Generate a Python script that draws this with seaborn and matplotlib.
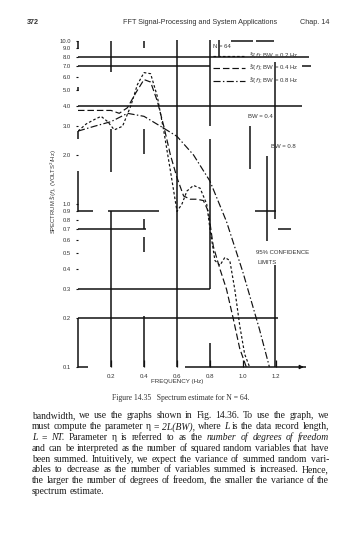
import numpy as np
import pandas as pd
import matplotlib
matplotlib.use("Agg")
import matplotlib.pyplot as plt
import seaborn as sns

# ---------------- data ----------------
freq_bw02 = [0.0, 0.05, 0.1, 0.14, 0.18, 0.22, 0.27, 0.32, 0.36, 0.4, 0.44, 0.48, 0.52,
             0.56, 0.6, 0.63, 0.66, 0.7, 0.74, 0.78, 0.8, 0.83, 0.86, 0.89, 0.92, 0.95,
             0.98, 1.01, 1.04]
spec_bw02 = [2.8, 3.1, 3.3, 3.45, 3.2, 2.85, 3.0, 4.0, 5.4, 6.4, 6.3, 4.6, 2.8,
             1.6, 0.9, 1.0, 1.2, 1.3, 1.25, 1.0, 0.7, 0.45, 0.42, 0.47, 0.45, 0.3,
             0.18, 0.12, 0.1]

freq_bw04 = [0.0, 0.1, 0.2, 0.25, 0.3, 0.35, 0.4, 0.44, 0.48, 0.52, 0.56, 0.6, 0.64,
             0.68, 0.72, 0.76, 0.79, 0.82, 0.86, 0.9, 0.94, 0.98, 1.02]
spec_bw04 = [3.75, 3.75, 3.75, 3.6, 3.9, 4.8, 5.8, 5.6, 4.3, 3.0, 2.0, 1.45, 1.12,
             1.07, 1.07, 1.05, 0.9, 0.55, 0.4, 0.3, 0.2, 0.13, 0.1]

freq_bw08 = [0.0, 0.1, 0.2, 0.3, 0.4, 0.5, 0.6, 0.7, 0.8, 0.9, 1.0, 1.1, 1.16]
spec_bw08 = [2.8, 3.0, 3.2, 3.6, 3.45, 3.0, 2.6, 2.0, 1.38, 0.78, 0.38, 0.17, 0.1]

series_labels = [r"$\hat{S}(f)$; BW = 0.2 Hz",
                 r"$\hat{S}(f)$; BW = 0.4 Hz",
                 r"$\hat{S}(f)$; BW = 0.8 Hz"]

x_ticks = [0.2, 0.4, 0.6, 0.8, 1.0, 1.2]
x_tick_labels = ["0.2", "0.4", "0.6", "0.8", "1.0", "1.2"]
y_ticks = [10, 9, 8, 7, 6, 5, 4, 3, 2, 1.0, 0.9, 0.8, 0.7, 0.6, 0.5, 0.4, 0.3, 0.2, 0.1]
y_tick_labels = ["10.0", "9.0", "8.0", "7.0", "6.0", "5.0", "4.0", "3.0", "2.0", "1.0",
                 "0.9", "0.8", "0.7", "0.6", "0.5", "0.4", "0.3", "0.2", "0.1"]

# chart-paper grid fragments (broken in the scan): (x, y_low, y_high)
v_segments = [(0.2, 6.45, 10), (0.2, 1.57, 2.88), (0.2, 0.1, 0.906),
              (0.4, 9.0, 10), (0.4, 2.03, 2.88), (0.4, 0.70, 0.81), (0.4, 0.51, 0.63),
              (0.4, 0.1, 0.206),
              (0.6, 0.1, 10.2),
              (0.8, 3.0, 10.2), (0.8, 0.3, 2.5), (0.8, 0.1, 0.14),
              (0.855, 8.1, 10.1),
              (1.04, 1.64, 3.0),
              (1.145, 0.59, 1.97),
              (1.194, 0.81, 7.4), (1.194, 0.1, 0.42)]
# (y, x_from, x_to)
h_segments = [(10, 0.93, 1.06), (10, 1.08, 1.19),
              (8.0, 0.0, 1.40),
              (7.0, 0.0, 0.80), (7.0, 1.36, 1.41),
              (4.0, 0.0, 1.36),
              (0.9, 0.0, 0.09), (0.9, 0.18, 0.49), (0.9, 1.07, 1.20),
              (0.7, 0.0, 0.41), (0.7, 1.21, 1.29),
              (0.3, 0.0, 0.80),
              (0.2, 0.0, 1.21),
              (0.1, 0.0, 0.06), (0.1, 0.65, 1.38)]
left_axis_segments = [(8.9, 10.0), (4.9, 5.2), (2.5, 2.8), (0.9, 1.6), (0.1, 0.2)]

body_lines = [
    [("bandwidth, we use the graphs shown in Fig. 14.36. To use the graph, we", "normal")],
    [("must compute the parameter η = ", "normal"), ("2L(BW),", "italic"),
     (" where ", "normal"), ("L", "italic"), (" is the data record length,", "normal")],
    [("L", "italic"), (" = ", "normal"), ("NT.", "italic"),
     (" Parameter η is referred to as the ", "normal"),
     ("number of degrees of freedom", "italic")],
    [("and can be interpreted as the number of squared random variables that have", "normal")],
    [("been summed. Intuitively, we expect the variance of summed random vari-", "normal")],
    [("ables to decrease as the number of variables summed is increased. Hence,", "normal")],
    [("the larger the number of degrees of freedom, the smaller the variance of the", "normal")],
    [("spectrum estimate.", "normal")],
]

# ---------------- figure ----------------
sns.set_theme(style="white")
plt.rcParams['font.family'] = ['Liberation Sans', 'DejaVu Sans']
plt.rcParams['mathtext.fontset'] = 'dejavusans'

W, H = 360, 538
fig = plt.figure(figsize=(W / 100, H / 100), dpi=100)
fig.patch.set_facecolor("white")


def P(x, y):
    return (x / W, 1 - y / H)


ax = fig.add_axes([78 / W, (H - 367) / H, 231 / W, 326 / H])
ax.set_facecolor("white")
ax.set_yscale("log")
ax.set_xlim(0, 1.4)
ax.set_ylim(0.1, 10)
for s in ax.spines.values():
    s.set_visible(False)

ink = "#111111"
txt = "#333333"

styles = [(0, (2.2, 1.8)), (0, (5.5, 2.5)), (0, (6, 2, 1.2, 2))]
series = [(freq_bw02, spec_bw02), (freq_bw04, spec_bw04), (freq_bw08, spec_bw08)]
handles = []
for (fx, sy), lab, ls in zip(series, series_labels, styles):
    df = pd.DataFrame({"f": fx, "S": sy})
    sns.lineplot(data=df, x="f", y="S", ax=ax, color=ink, lw=0.85,
                 sort=False, estimator=None, label=lab)
    ln = ax.lines[-1]
    ln.set_linestyle(ls)
    handles.append(ln)

for x, y0, y1 in v_segments:
    ax.vlines(x, y0, y1, color=ink, lw=1.1, clip_on=False)
for y, x0, x1 in h_segments:
    ax.hlines(y, x0, x1, color=ink, lw=1.1, clip_on=False)
for y0, y1 in left_axis_segments:
    ax.vlines(0.0, y0, y1, color=ink, lw=1.1, clip_on=False)

ax.annotate("", xy=(1.385, 0.1), xytext=(1.33, 0.1),
            arrowprops=dict(arrowstyle="-|>", color=ink, lw=0.8, mutation_scale=6),
            annotation_clip=False)

ax.set_xticks(x_ticks)
ax.set_xticklabels(x_tick_labels)
ax.set_yticks(y_ticks)
ax.set_yticklabels(y_tick_labels)
ax.minorticks_off()
ax.tick_params(axis="x", direction="in", length=5, width=0.9, color=ink,
               labelsize=4.4, labelcolor=txt, pad=5, bottom=True)
ax.tick_params(axis="y", direction="out", length=1.5, width=0.8, color=ink,
               labelsize=4.2, labelcolor=txt, pad=3.5, left=True)
ax.set_xlabel("")
ax.set_ylabel("")

leg = ax.legend(handles, series_labels, title="N = 64", loc="upper left",
                bbox_to_anchor=P(213, 44), bbox_transform=fig.transFigure,
                frameon=False, fontsize=4.3, title_fontsize=4.3,
                handlelength=5.4, handletextpad=0.6, labelspacing=0.25,
                borderpad=0, borderaxespad=0, alignment="left")
for t in leg.get_texts():
    t.set_color(txt)
leg.get_title().set_color(txt)

# annotations
fig.text(*P(260, 116), "BW = 0.4", fontsize=4.3, color=txt, ha="center", va="center")
fig.text(*P(283, 146), "BW = 0.8", fontsize=4.3, color=txt, ha="center", va="center")
fig.text(*P(256, 253), "95% CONFIDENCE", fontsize=4.3, color=txt, ha="left", va="center")
fig.text(*P(257, 262), "LIMITS", fontsize=4.3, color=txt, ha="left", va="center")

fig.text(*P(54, 192), r"SPECTRUM $\hat{S}(f)$, (VOLTS$^2$/Hz)", fontsize=4.2, color=txt,
         rotation=90, ha="center", va="center")
fig.text(*P(177, 382), "FREQUENCY (Hz)", fontsize=4.5, color=txt, ha="center", va="center")

# page header and caption
fig.text(*P(27, 23), "372", fontsize=5.2, color=txt, ha="left", va="center", weight="bold")
fig.text(*P(123, 23), "FFT Signal-Processing and System Applications", fontsize=5.2,
         color=txt, ha="left", va="center")
fig.text(*P(300, 23), "Chap. 14", fontsize=5.2, color=txt, ha="left", va="center")
fig.text(*P(181, 398), "Figure 14.35   Spectrum estimate for N = 64.", fontsize=5.5,
         color=txt, ha="center", va="center", family="Liberation Serif")

# justified body text
renderer = fig.canvas.get_renderer()
left_px, right_px = 32, 329
y0, dy = 416, 10.75
for i, parts in enumerate(body_lines):
    y = y0 + i * dy
    tokens = []
    for text, style in parts:
        words = text.split(" ")
        for j, w in enumerate(words):
            if w == "":
                if tokens:
                    tokens[-1][2] = True
                continue
            tokens.append([w, style, False])
            if j < len(words) - 1:
                tokens[-1][2] = True
    objs = []
    widths = []
    for w, style, sp in tokens:
        t = fig.text(0, 0, w, fontsize=6.9, family="Liberation Serif", style=style,
                     color="#1a1a1a", ha="left", va="center")
        bb = t.get_window_extent(renderer)
        objs.append(t)
        widths.append(bb.width)
    n_gaps = sum(1 for k, tok in enumerate(tokens[:-1]) if tok[2])
    total = sum(widths)
    last = (i == len(body_lines) - 1)
    gap = 2.0 if (last or n_gaps == 0) else (right_px - left_px - total) / n_gaps
    x = left_px
    for k, (t, wpx) in enumerate(zip(objs, widths)):
        t.set_position(P(x, y))
        x += wpx
        if tokens[k][2]:
            x += gap

fig.savefig("out.png", dpi=100, facecolor="white")
